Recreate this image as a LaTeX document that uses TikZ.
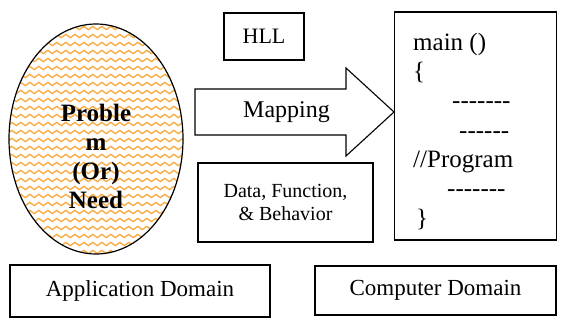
\documentclass[tikz,border=0pt]{standalone}
\usepackage{fontspec}
\setmainfont{Liberation Serif}
\usetikzlibrary{shapes.geometric,decorations.pathmorphing}
\definecolor{waveorange}{RGB}{248,172,70}
\begin{document}
\begin{tikzpicture}[x=1pt,y=-1pt,
  box/.style={draw=black, line width=1.1pt, inner sep=0pt, align=center},
  codeline/.style={anchor=base west, inner sep=0pt, font=\fontsize{25}{29}\selectfont},
  wave/.style={draw=waveorange, line width=1.4pt,
               decorate, decoration={snake, amplitude=1.6pt, segment length=9pt}}]
\useasboundingbox (0,0) rectangle (572,321);

% --- patterned ellipse: the problem / need
\begin{scope}
  \clip (96,139) ellipse [x radius=87, y radius=115];
  \foreach \r in {0,...,32} {
    \draw[wave] (0,{20+8*\r}) -- (200,{20+8*\r});
  }
\end{scope}
\node[ellipse, draw=black, line width=1.2pt, minimum width=174pt,
      minimum height=230pt, inner sep=0pt] (problem) at (96,139) {};
\node[align=center, inner sep=0pt, font=\bfseries\fontsize{25}{29}\selectfont] (ptext)
  at (96,156) {Proble\\m\\(Or)\\Need};

% --- HLL label
\node[box, font=\fontsize{22}{26}\selectfont, minimum width=80pt, minimum height=47pt]
  (hll) at (264,36.5) {HLL};

% --- mapping arrow
\draw[line width=1.1pt, fill=white, line join=miter]
  (195,89) -- (346,89) -- (346,68) -- (394,112) -- (346,156) -- (346,135)
  -- (195,135) -- cycle;
\node[font=\fontsize{24}{28}\selectfont] (map) at (286.5,112) {Mapping};

% --- data, function & behaviour
\node[box, font=\fontsize{20}{23}\selectfont, minimum width=175pt, minimum height=79pt]
  (dfb) at (285.5,202.5) {Data, Function,\\\& Behavior};

% --- program in the computer domain
\node[box, minimum width=162pt, minimum height=228pt] (prog) at (475.5,126) {};
\node[codeline] (p1) at (413,50)    {main ()};
\node[codeline] (p2) at (413,79.3)  {\{};
\node[codeline] (p3) at (452,108.6) {-{}-{}-{}-{}-{}-{}-};
\node[codeline] (p4) at (459,138)   {-{}-{}-{}-{}-{}-};
\node[codeline] (p5) at (413,167)   {//Program};
\node[codeline] (p6) at (447,196.5) {-{}-{}-{}-{}-{}-{}-};
\node[codeline] (p7) at (416,226)   {\}};

% --- domain labels
\node[box, font=\fontsize{23}{27}\selectfont, minimum width=260pt, minimum height=52pt]
  (app) at (140,291) {Application Domain};
\node[box, font=\fontsize{23}{27}\selectfont, minimum width=241pt, minimum height=49pt]
  (comp) at (435.5,290.5) {Computer Domain};
\end{tikzpicture}
\end{document}
